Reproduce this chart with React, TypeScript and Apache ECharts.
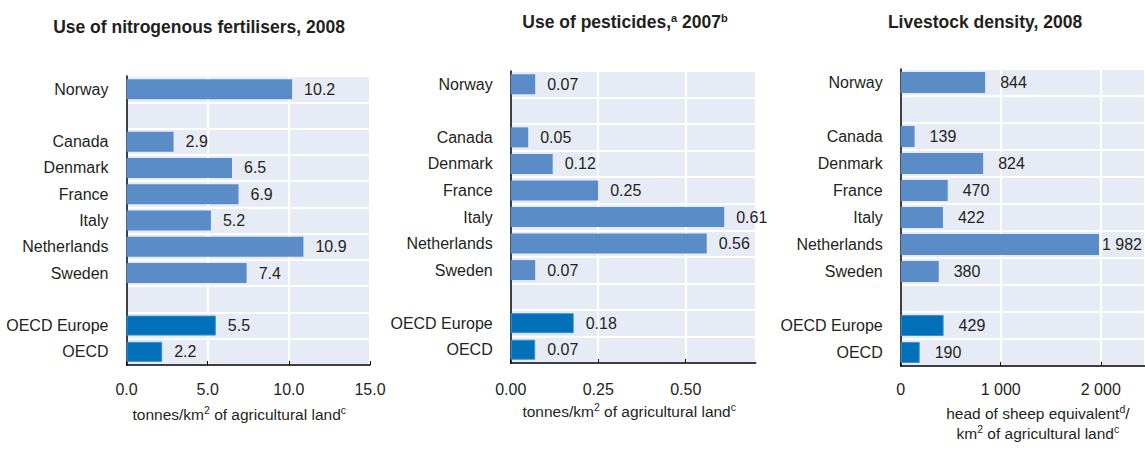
import React, { useEffect, useRef } from "react";
import * as echarts from "echarts";

// Row order (top to bottom); blank strings are spacer rows between groups
const categories = [
  "Norway",
  "",
  "Canada",
  "Denmark",
  "France",
  "Italy",
  "Netherlands",
  "Sweden",
  " ",
  "OECD Europe",
  "OECD",
];

// Use of nitrogenous fertilisers, 2008 (tonnes/km2)
const fertiliser = [10.2, null, 2.9, 6.5, 6.9, 5.2, 10.9, 7.4, null, 5.5, 2.2];
// Use of pesticides, 2007 (tonnes/km2)
const pesticides = [0.07, null, 0.05, 0.12, 0.25, 0.61, 0.56, 0.07, null, 0.18, 0.07];
// Livestock density, 2008 (head of sheep equivalent/km2)
const livestock = [844, null, 139, 824, 470, 422, 1982, 380, null, 429, 190];

const aggregateRows = ["OECD Europe", "OECD"];

const FONT = "'Liberation Sans Narrow', 'Arial Narrow', 'Liberation Sans', Arial, sans-serif";
const TEXT = "#231f20";
const BAR = "#5a8dc8";
const BAR_AGG = "#0070b8";
const PANEL_BG = "#e7ebf6";
const FS = 16;

const supRich = {
  sup: { fontSize: 10.5, verticalAlign: "top", fontFamily: FONT, color: TEXT, lineHeight: 14 },
  base: { fontSize: 15.5, fontFamily: FONT, color: TEXT, lineHeight: 20 },
};

function groupThousands(v: number): string {
  return String(Math.round(v)).replace(/\B(?=(\d{3})+(?!\d))/g, " ");
}

function buildData(values: (number | null)[], labelDistance?: Record<number, number>) {
  return values.map((v, i) => {
    const isAgg = aggregateRows.includes(categories[i]);
    const item: any = {
      value: v,
      itemStyle: isAgg
        ? { color: BAR_AGG, borderColor: "#3c8fd0", borderWidth: 1 }
        : { color: BAR },
    };
    if (labelDistance && labelDistance[i] !== undefined) {
      item.label = { distance: labelDistance[i] };
    }
    return item;
  });
}

export default function App() {
  const ref = useRef<HTMLDivElement>(null);

  useEffect(() => {
    if (!ref.current) return;
    const chart = echarts.init(ref.current, undefined, { renderer: "svg" });

    const grids = [
      { left: 126.5, top: 76, width: 243.5, height: 289 },
      { left: 510.7, top: 71, width: 245, height: 292 },
      { left: 900.7, top: 69, width: 244.3, height: 297 },
    ];

    const xCommon = (idx: number) => ({
      type: "value",
      gridIndex: idx,
      axisLine: { show: true, lineStyle: { color: "#000", width: 1.5 } },
      axisTick: { show: true, inside: true, length: 4, lineStyle: { color: "#000" } },
      splitLine: { show: true, lineStyle: { color: "#ffffff", width: 2 } },
      axisLabel: { color: TEXT, fontSize: FS, fontFamily: FONT, margin: 16 },
      nameLocation: "middle",
    });

    const yCommon = (idx: number) => ({
      type: "category",
      gridIndex: idx,
      data: categories,
      inverse: true,
      axisLine: { show: true, lineStyle: { color: "#000", width: 1.5 } },
      axisTick: { show: false },
      splitLine: { show: true, lineStyle: { color: "#ffffff", width: 2 } },
      axisLabel: { color: TEXT, fontSize: FS, fontFamily: FONT, margin: 18 },
    });

    const labelCommon = {
      show: true,
      position: "right",
      color: TEXT,
      fontSize: FS,
      fontFamily: FONT,
    };

    chart.setOption({
      animation: false,
      grid: grids.map((g) => ({ ...g, show: true, backgroundColor: PANEL_BG, borderWidth: 0 })),
      xAxis: [
        {
          ...xCommon(0),
          min: 0,
          max: 15,
          interval: 5,
          axisLabel: { ...xCommon(0).axisLabel, formatter: (v: number) => v.toFixed(1) },
          name: "{base|tonnes/km}{sup|2}{base| of agricultural land}{sup|c}",
          nameGap: 39,
          nameTextStyle: { rich: supRich, lineHeight: 20, padding: [0, 18, 0, 0] },
        },
        {
          ...xCommon(1),
          min: 0,
          max: 0.7,
          interval: 0.25,
          axisLabel: {
            ...xCommon(1).axisLabel,
            margin: 18,
            showMaxLabel: false,
            formatter: (v: number) => (Math.abs(v / 0.25 - Math.round(v / 0.25)) < 1e-6 ? v.toFixed(2) : ""),
          },
          name: "{base|tonnes/km}{sup|2}{base| of agricultural land}{sup|c}",
          nameGap: 38,
          nameTextStyle: { rich: supRich, lineHeight: 20, padding: [0, 8, 0, 0] },
        },
        {
          ...xCommon(2),
          min: 0,
          max: 2442,
          interval: 1000,
          axisLabel: {
            ...xCommon(2).axisLabel,
            margin: 15,
            showMaxLabel: false,
            formatter: (v: number) => (v % 1000 === 0 ? groupThousands(v) : ""),
          },
          name:
            "{base|head of sheep equivalent}{sup|d}{base|/}\n{base|km}{sup|2}{base| of agricultural land}{sup|c}",
          nameGap: 37,
          nameTextStyle: { rich: supRich, lineHeight: 20, padding: [0, 0, 0, 30] },
        },
      ],
      yAxis: [yCommon(0), yCommon(1), yCommon(2)],
      series: [
        {
          type: "bar",
          xAxisIndex: 0,
          yAxisIndex: 0,
          barWidth: 20,
          data: buildData(fertiliser),
          label: { ...labelCommon, distance: 12, formatter: (p: any) => Number(p.value).toFixed(1) },
        },
        {
          type: "bar",
          xAxisIndex: 1,
          yAxisIndex: 1,
          barWidth: 20,
          data: buildData(pesticides),
          label: { ...labelCommon, distance: 12, formatter: (p: any) => Number(p.value).toFixed(2) },
        },
        {
          type: "bar",
          xAxisIndex: 2,
          yAxisIndex: 2,
          barWidth: 21,
          data: buildData(livestock, { 6: 3 }),
          label: { ...labelCommon, distance: 15, formatter: (p: any) => groupThousands(Number(p.value)) },
        },
      ],
      graphic: [
        {
          type: "text",
          x: 199,
          y: 27,
          style: {
            text: "Use of nitrogenous fertilisers, 2008",
            font: `bold 17.5px ${FONT}`,
            fill: TEXT,
            align: "center",
            verticalAlign: "middle",
          },
        },
        {
          type: "text",
          x: 625,
          y: 22,
          style: {
            text: "{t|Use of pesticides,}{s|a}{t| 2007}{s|b}",
            align: "center",
            verticalAlign: "middle",
            rich: {
              t: { font: `bold 17.5px ${FONT}`, fill: TEXT, lineHeight: 20 },
              s: { font: `bold 11px ${FONT}`, fill: TEXT, verticalAlign: "top", lineHeight: 14 },
            },
          },
        },
        {
          type: "text",
          x: 985,
          y: 22,
          style: {
            text: "Livestock density, 2008",
            font: `bold 17.5px ${FONT}`,
            fill: TEXT,
            align: "center",
            verticalAlign: "middle",
          },
        },
      ],
    });

    return () => chart.dispose();
  }, []);

  return (
    <div
      ref={ref}
      style={{ position: "absolute", left: 0, top: 0, width: 1145, height: 457, background: "#fff" }}
    />
  );
}
